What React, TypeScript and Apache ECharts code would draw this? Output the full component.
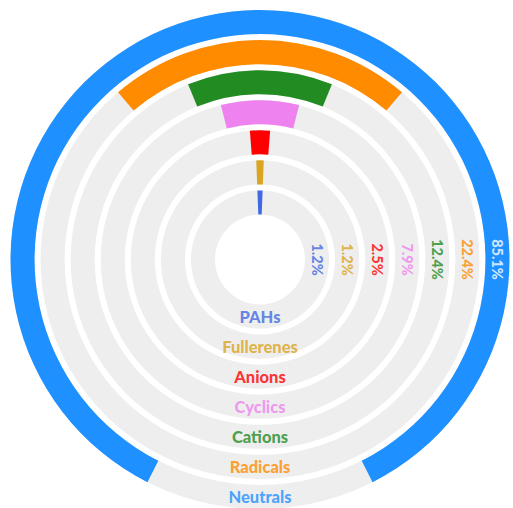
import React, { useEffect, useRef } from "react";
import * as echarts from "echarts";

const categories = ["PAHs", "Fullerenes", "Anions", "Cyclics", "Cations", "Radicals", "Neutrals"];
const values = [1.2, 1.2, 2.5, 7.9, 12.4, 22.4, 85.1];
const colors = ["#4169E1", "#DAA520", "#FF0000", "#EE82EE", "#228B22", "#FF8C00", "#1E90FF"];
const pctLabelColors = ["#4169E1", "#DAA520", "#FF0000", "#EE82EE", "#228B22", "#FF8C00", "#FFFFFF"];

export default function App() {
  const ref = useRef<HTMLDivElement>(null);
  useEffect(() => {
    document.body.style.margin = "0";
    const chart = echarts.init(ref.current!, null, { renderer: "svg" });
    const font = "Lato";
    chart.setOption({
      animation: false,
      polar: { center: [260, 259.5], radius: [42, 252.5] },
      angleAxis: {
        type: "value",
        min: 0,
        max: 100,
        startAngle: 270,
        clockwise: true,
        show: false,
      },
      radiusAxis: {
        type: "category",
        data: categories,
        show: false,
      },
      series: [
        {
          type: "bar",
          coordinateSystem: "polar",
          stack: "s",
          barCategoryGap: "20%",
          data: values.map((v) => (100 - v) / 2),
          itemStyle: { color: "rgba(0,0,0,0)" },
          showBackground: true,
          backgroundStyle: { color: "#eeeeee" },
          silent: true,
        },
        {
          type: "bar",
          coordinateSystem: "polar",
          stack: "s",
          barCategoryGap: "20%",
          data: values.map((v, i) => ({ value: v, itemStyle: { color: colors[i] } })),
        },
        {
          type: "scatter",
          coordinateSystem: "polar",
          symbolSize: 1,
          itemStyle: { color: "rgba(0,0,0,0)" },
          z: 10,
          data: values.map((v, i) => ({
            value: [i, 75],
            label: {
              show: true,
              position: "inside",
              rotate: -90,
              formatter: v.toFixed(1) + "%",
              color: pctLabelColors[i],
              fontFamily: font,
              fontWeight: 900,
              fontSize: 14.5,
            },
          })),
        },
        {
          type: "scatter",
          coordinateSystem: "polar",
          symbolSize: 1,
          itemStyle: { color: "rgba(0,0,0,0)" },
          z: 10,
          data: categories.map((c, i) => ({
            value: [i, 0],
            label: {
              show: true,
              position: "inside",
              formatter: c,
              color: colors[i],
              fontFamily: font,
              fontWeight: 900,
              fontSize: 16.5,
            },
          })),
        },
      ],
    });
    return () => chart.dispose();
  }, []);
  return <div ref={ref} style={{ width: 513, height: 508 }} />;
}
